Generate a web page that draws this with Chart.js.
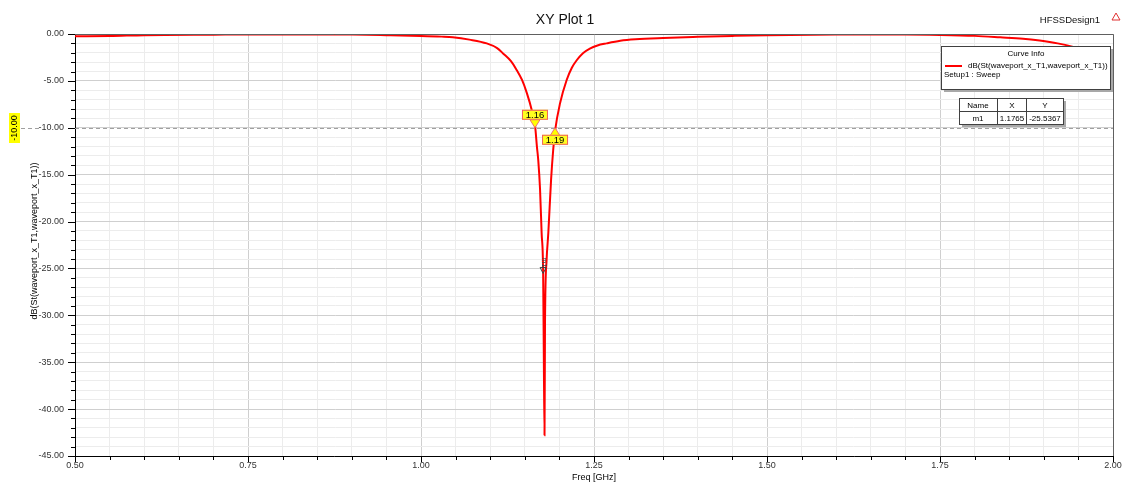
<!DOCTYPE html>
<html>
<head>
<meta charset="utf-8">
<script src="https://cdn.jsdelivr.net/npm/chart.js@4.4.0/dist/chart.umd.min.js"></script>
<style>
body { margin: 0; background: #fff; }
#wrap { width: 1122px; height: 484px; }
</style>
</head>
<body>
<div id="wrap"><canvas id="grafica" width="1122" height="484"></canvas></div>
<script>
// sweep
const freq = [0.50, 0.55, 0.60, 0.70, 0.80, 0.90, 0.95, 1.00, 1.03, 1.046, 1.07, 1.095, 1.11, 1.119, 1.13, 1.138,
	1.146, 1.153, 1.160, 1.165, 1.1675, 1.1695, 1.172, 1.1743, 1.1765, 1.1775, 1.1785, 1.1792, 1.1815, 1.184,
	1.188, 1.191, 1.194, 1.2009, 1.2105, 1.218, 1.225, 1.234, 1.244, 1.255, 1.268, 1.288, 1.31, 1.35, 1.40, 1.45,
	1.50, 1.60, 1.70, 1.75, 1.80, 1.837, 1.87, 1.894, 1.92, 1.941, 1.97, 2.00];
const s11 = [-0.25, -0.22, -0.12, -0.07, -0.04, -0.06, -0.12, -0.20, -0.28, -0.35, -0.60, -1.00, -1.50, -2.10, -2.90, -3.80,
	-4.90, -6.30, -8.10, -9.90, -12.0, -13.5, -16.5, -21.2, -25.5, -34.5, -42.8, -30.8, -24.1, -21.2,
	-15.5, -12.4, -10.2, -7.4, -4.9, -3.6, -2.8, -2.05, -1.55, -1.22, -1.0, -0.72, -0.56, -0.42, -0.30, -0.20,
	-0.12, -0.05, -0.05, -0.10, -0.20, -0.35, -0.50, -0.70, -1.00, -1.35, -2.00, -2.95];

const xLabels = ['0.50', '0.75', '1.00', '1.25', '1.50', '1.75', '2.00'];
const yLabels = ['0.00', '-5.00', '-10.00', '-15.00', '-20.00', '-25.00', '-30.00', '-35.00', '-40.00', '-45.00'];

// -10 dB cut and its crossing markers
const cutLevel = -10;
const cutFreqs = [1.1647, 1.1937];
const cutLabels = ['1.16', '1.19'];

// marker table
const markerNames = ['m1'];
const markerX = [1.1765];
const markerY = [-25.5367];

const seriesName = 'dB(St(waveport_x_T1,waveport_x_T1))';

const xGrid = [];
for (let i = 0; i <= 30; i++) xGrid.push(+(0.5 + i * 0.05).toFixed(2));
const yGrid = [];
for (let i = 0; i <= 45; i++) yGrid.push(-i);

const isMajorX = v => Math.abs(v / 0.25 - Math.round(v / 0.25)) < 1e-6;
const isMajorY = v => Math.abs(v % 5) < 1e-6;

const FONT = '"Liberation Sans", Arial, sans-serif';

function txt(ctx, s, x, y, size, align, color) {
	ctx.font = size + 'px ' + FONT;
	ctx.fillStyle = color || '#000';
	ctx.textAlign = align || 'left';
	ctx.textBaseline = 'middle';
	ctx.fillText(s, x, y);
}

function shadowBox(ctx, x, y, w, h) {
	ctx.fillStyle = '#a8a8a8';
	ctx.fillRect(x + 3, y + 3, w, h);
	ctx.fillStyle = '#fff';
	ctx.fillRect(x, y, w, h);
	ctx.strokeStyle = '#404040';
	ctx.lineWidth = 1;
	ctx.strokeRect(x + 0.5, y + 0.5, w, h);
}

const decor = {
	id: 'decor',
	beforeDatasetsDraw(chart) {
		const { ctx, chartArea: a, scales: { y } } = chart;
		const yy = Math.round(y.getPixelForValue(cutLevel)) + 0.5;
		ctx.save();
		ctx.strokeStyle = '#a0a0a0';
		ctx.lineWidth = 1;
		ctx.setLineDash([4, 3]);
		ctx.beginPath();
		ctx.moveTo(21, yy); ctx.lineTo(39, yy);
		ctx.moveTo(a.left, yy); ctx.lineTo(a.right, yy);
		ctx.stroke();
		ctx.restore();
	},
	afterDatasetsDraw(chart) {
		const { ctx, scales: { x, y } } = chart;
		ctx.save();
		// crossing markers
		cutFreqs.forEach((f, i) => {
			const px = x.getPixelForValue(f), py = y.getPixelForValue(cutLevel);
			const dir = i === 0 ? -1 : 1;
			ctx.beginPath();
			ctx.moveTo(px, py);
			ctx.lineTo(px - 5, py + dir * 8);
			ctx.lineTo(px + 5, py + dir * 8);
			ctx.closePath();
			ctx.fillStyle = '#ffff00';
			ctx.fill();
			ctx.strokeStyle = '#f07070';
			ctx.lineWidth = 1;
			ctx.stroke();
			const by = i === 0 ? py - 18 : py + 7;
			ctx.fillStyle = '#ffff20';
			ctx.fillRect(px - 13, by, 26, 10);
			ctx.strokeStyle = '#f06060';
			ctx.strokeRect(px - 12.5, by + 0.5, 25, 9);
			txt(ctx, cutLabels[i], px, by + 5.5, 9.5, 'center', '#000');
		});
		// m1
		markerNames.forEach((n, i) => {
			const px = x.getPixelForValue(markerX[i]), py = y.getPixelForValue(markerY[i]);
			ctx.beginPath();
			ctx.moveTo(px, py);
			ctx.lineTo(px - 3, py - 6);
			ctx.lineTo(px + 3, py - 6);
			ctx.closePath();
			ctx.strokeStyle = '#404040';
			ctx.lineWidth = 1;
			ctx.stroke();
			ctx.save();
			ctx.translate(px + 1, py - 11);
			ctx.rotate(Math.PI / 2);
			txt(ctx, n, 0, 0, 7, 'center', '#404040');
			ctx.restore();
		});
		ctx.restore();
	},
	afterDraw(chart) {
		const { ctx, chartArea: a, scales: { x, y } } = chart;
		ctx.save();
		// top / right frame
		ctx.strokeStyle = '#606060';
		ctx.lineWidth = 1;
		ctx.beginPath();
		ctx.moveTo(a.left, a.top + 0.5); ctx.lineTo(a.right + 0.5, a.top + 0.5);
		ctx.lineTo(a.right + 0.5, a.bottom);
		ctx.stroke();
		// tick marks
		ctx.strokeStyle = '#000';
		ctx.beginPath();
		xGrid.forEach(v => {
			const px = Math.round(x.getPixelForValue(v)) + 0.5;
			ctx.moveTo(px, a.bottom);
			ctx.lineTo(px, a.bottom + (isMajorX(v) ? 6 : 4));
		});
		yGrid.forEach(v => {
			const py = Math.round(y.getPixelForValue(v)) + 0.5;
			ctx.moveTo(a.left, py);
			ctx.lineTo(a.left - (isMajorY(v) ? 7 : 4), py);
		});
		ctx.stroke();

		// titles
		txt(ctx, 'XY Plot 1', 565, 20, 14, 'center', '#111');
		txt(ctx, 'HFSSDesign1', 1100, 20, 9.5, 'right', '#111');
		ctx.beginPath();
		ctx.moveTo(1116, 13); ctx.lineTo(1112, 20); ctx.lineTo(1120, 20); ctx.closePath();
		ctx.strokeStyle = '#e03030';
		ctx.stroke();
		txt(ctx, 'Freq [GHz]', (a.left + a.right) / 2, 478, 9, 'center', '#000');
		ctx.save();
		ctx.translate(35, 241);
		ctx.rotate(-Math.PI / 2);
		txt(ctx, seriesName, 0, 0, 9, 'center', '#000');
		ctx.restore();

		// -10 label
		const yy = Math.round(y.getPixelForValue(cutLevel));
		ctx.fillStyle = '#ffff00';
		ctx.fillRect(9, yy - 15, 11, 30);
		ctx.save();
		ctx.translate(15, yy);
		ctx.rotate(-Math.PI / 2);
		txt(ctx, yLabels[2], 0, 0, 9, 'center', '#000');
		ctx.restore();

		// curve info
		shadowBox(ctx, 941, 46, 169, 43);
		txt(ctx, 'Curve Info', 1026, 54, 8, 'center', '#000');
		ctx.strokeStyle = '#ff0000';
		ctx.lineWidth = 2;
		ctx.beginPath(); ctx.moveTo(945, 66); ctx.lineTo(962, 66); ctx.stroke();
		txt(ctx, seriesName, 968, 66, 8, 'left', '#000');
		txt(ctx, 'Setup1 : Sweep', 944, 75, 8, 'left', '#000');

		// marker table
		shadowBox(ctx, 959, 98, 104, 26);
		ctx.strokeStyle = '#404040';
		ctx.lineWidth = 1;
		ctx.beginPath();
		ctx.moveTo(959, 111.5); ctx.lineTo(1063, 111.5);
		ctx.moveTo(997.5, 98); ctx.lineTo(997.5, 124);
		ctx.moveTo(1026.5, 98); ctx.lineTo(1026.5, 124);
		ctx.stroke();
		txt(ctx, 'Name', 978, 105.5, 8, 'center');
		txt(ctx, 'X', 1012, 105.5, 8, 'center');
		txt(ctx, 'Y', 1045, 105.5, 8, 'center');
		markerNames.forEach((n, i) => {
			txt(ctx, n, 978, 118.5, 8, 'center');
			txt(ctx, markerX[i].toFixed(4), 1012, 118.5, 8, 'center');
			txt(ctx, markerY[i].toFixed(4), 1045, 118.5, 8, 'center');
		});
		ctx.restore();
	}
};

const graph = document.querySelector('#grafica');

const data = {
	datasets: [{
		label: seriesName,
		data: freq.map((f, i) => ({ x: f, y: s11[i] })),
		showLine: true,
		borderColor: '#ff0000',
		borderWidth: 2,
		pointRadius: 0,
		cubicInterpolationMode: 'monotone'
	}]
};

const config = {
	type: 'scatter',
	data: data,
	options: {
		responsive: false,
		animation: false,
		devicePixelRatio: 1,
		layout: { padding: { top: 34, right: 9, left: 0, bottom: 0 } },
		plugins: { legend: { display: false }, tooltip: { enabled: false } },
		scales: {
			x: {
				type: 'linear', min: 0.5, max: 2.0,
				afterBuildTicks: s => { s.ticks = xGrid.map(v => ({ value: v })); },
				afterFit: s => { s.height = 28; s.paddingLeft = 0; s.paddingRight = 0; },
				grid: { drawTicks: false, color: c => isMajorX(c.tick.value) ? '#cfcfcf' : '#ececec' },
				border: { color: '#000' },
				ticks: {
					autoSkip: false, maxRotation: 0, padding: 4, color: '#333',
					font: { family: FONT, size: 9 },
					callback: v => xLabels.find(l => Math.abs(parseFloat(l) - v) < 1e-6) || ''
				}
			},
			y: {
				type: 'linear', min: -45, max: 0,
				afterBuildTicks: s => { s.ticks = yGrid.map(v => ({ value: v })); },
				afterFit: s => { s.width = 75; s.paddingTop = 0; s.paddingBottom = 0; },
				grid: { drawTicks: false, color: c => isMajorY(c.tick.value) ? '#cfcfcf' : '#ececec' },
				border: { color: '#000' },
				ticks: {
					autoSkip: false, padding: 11, color: '#333',
					font: { family: FONT, size: 9 },
					callback: v => yLabels.find(l => Math.abs(parseFloat(l) - v) < 1e-6) || ''
				}
			}
		}
	},
	plugins: [decor]
};
new Chart(graph, config);
</script>
</body>
</html>
